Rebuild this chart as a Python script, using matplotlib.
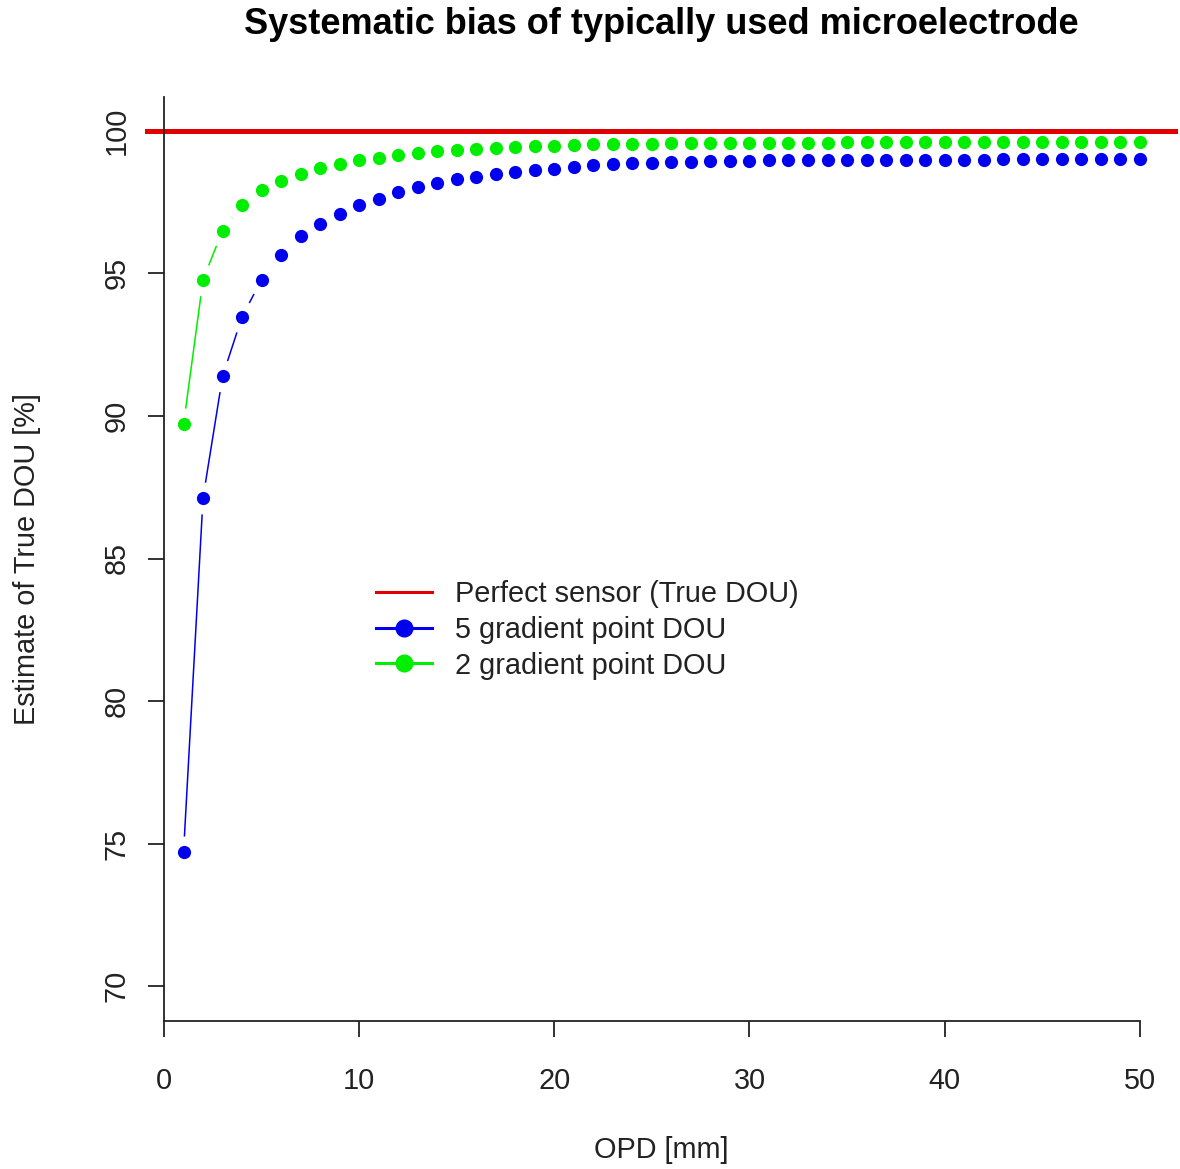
import matplotlib
matplotlib.use("Agg")
import matplotlib.pyplot as plt
from matplotlib.lines import Line2D

# ------------------------------------------------------------------
# data
# ------------------------------------------------------------------
opd = list(range(1, 51))

dou_5pt = [
    74.70, 87.13, 91.39, 93.48, 94.78, 95.65, 96.31, 96.74, 97.08, 97.41,
    97.62, 97.84, 98.03, 98.17, 98.29, 98.39, 98.47, 98.55, 98.61, 98.67,
    98.73, 98.79, 98.83, 98.86, 98.88, 98.90, 98.92, 98.93, 98.94, 98.95,
    98.96, 98.96, 98.97, 98.97, 98.98, 98.98, 98.98, 98.99, 98.99, 98.99,
    98.99, 98.99, 99.00, 99.00, 99.00, 99.00, 99.00, 99.00, 99.00, 99.00,
]

dou_2pt = [
    89.70, 94.78, 96.50, 97.40, 97.93, 98.25, 98.50, 98.70, 98.85, 98.97,
    99.05, 99.16, 99.22, 99.28, 99.32, 99.35, 99.38, 99.42, 99.45, 99.47,
    99.50, 99.52, 99.53, 99.54, 99.55, 99.56, 99.56, 99.57, 99.57, 99.57,
    99.58, 99.58, 99.58, 99.58, 99.59, 99.59, 99.59, 99.59, 99.59, 99.59,
    99.60, 99.60, 99.60, 99.60, 99.60, 99.60, 99.60, 99.60, 99.60, 99.60,
]

true_dou = 100

x_ticks = [0, 10, 20, 30, 40, 50]
y_ticks = [70, 75, 80, 85, 90, 95, 100]

labels = ["Perfect sensor (True DOU)", "5 gradient point DOU", "2 gradient point DOU"]

RED = "#e00000"
BLUE = "#0000ee"
GREEN = "#00ee00"

plt.rcParams["font.family"] = ["Liberation Sans", "DejaVu Sans"]

W, H = 1180, 1169
fig = plt.figure(figsize=(W / 100, H / 100), dpi=100)
ax = fig.add_axes([145.3 / W, 1 - 1020.5 / H, (1178 - 145.3) / W, (1020.5 - 96.5) / H])

ax.set_xlim(-0.96, 51.96)
ax.set_ylim(68.8, 101.2)

# series drawn like R type="b": line, white gap, then points
for vals, col in [(dou_5pt, BLUE), (dou_2pt, GREEN)]:
    ax.plot(opd, vals, color=col, linewidth=1.1, zorder=2)
    ax.plot(opd, vals, linestyle="none", marker="o", markersize=23,
            markerfacecolor="white", markeredgewidth=0, zorder=3)
for vals, col in [(dou_5pt, BLUE), (dou_2pt, GREEN)]:
    ax.plot(opd, vals, linestyle="none", marker="o", markersize=9.5,
            markerfacecolor=col, markeredgewidth=0, zorder=4)

ax.axhline(true_dou, color=RED, linewidth=3.6, zorder=5)

# axes in R style: y axis at x=0, x axis only between 0 and 50
for s in ["top", "right"]:
    ax.spines[s].set_visible(False)
ax.spines["left"].set_position(("data", 0))
ax.spines["bottom"].set_bounds(0, 50)
for s in ["left", "bottom"]:
    ax.spines[s].set_linewidth(1.3)
    ax.spines[s].set_color("#222222")
    ax.spines[s].set_zorder(6)

ax.set_xticks(x_ticks)
ax.set_yticks(y_ticks)
ax.tick_params(axis="both", length=11.5, width=1.3, color="#222222",
               labelsize=20.8, labelcolor="#222222")
ax.tick_params(axis="x", pad=22)
ax.tick_params(axis="y", pad=12.5)
plt.setp(ax.get_yticklabels(), rotation=90, va="center")

fig.text(661 / W, 1 - 24 / H, "Systematic bias of typically used microelectrode",
         ha="center", va="center", fontsize=26, fontweight="bold")
fig.text(661 / W, 1 - 1150 / H, "OPD [mm]", ha="center", va="center",
         fontsize=20.8, color="#222222")
fig.text(27 / W, 1 - 559 / H, "Estimate of True DOU [%]", ha="center", va="center",
         rotation=90, fontsize=20.8, color="#222222")

handles = [
    Line2D([], [], color=RED, linewidth=2.2),
    Line2D([], [], color=BLUE, linewidth=2.2, marker="o", markersize=13, markeredgewidth=0),
    Line2D([], [], color=GREEN, linewidth=2.2, marker="o", markersize=13, markeredgewidth=0),
]
ax.legend(handles, labels, loc="upper left", bbox_to_anchor=(376 / W, 1 - 580 / H),
          bbox_transform=fig.transFigure, frameon=False, fontsize=20.8,
          handlelength=1.95, handletextpad=0.8, labelspacing=0.27,
          borderpad=0, borderaxespad=0, labelcolor="#222222")

fig.savefig("out.png", dpi=100, facecolor="white")
